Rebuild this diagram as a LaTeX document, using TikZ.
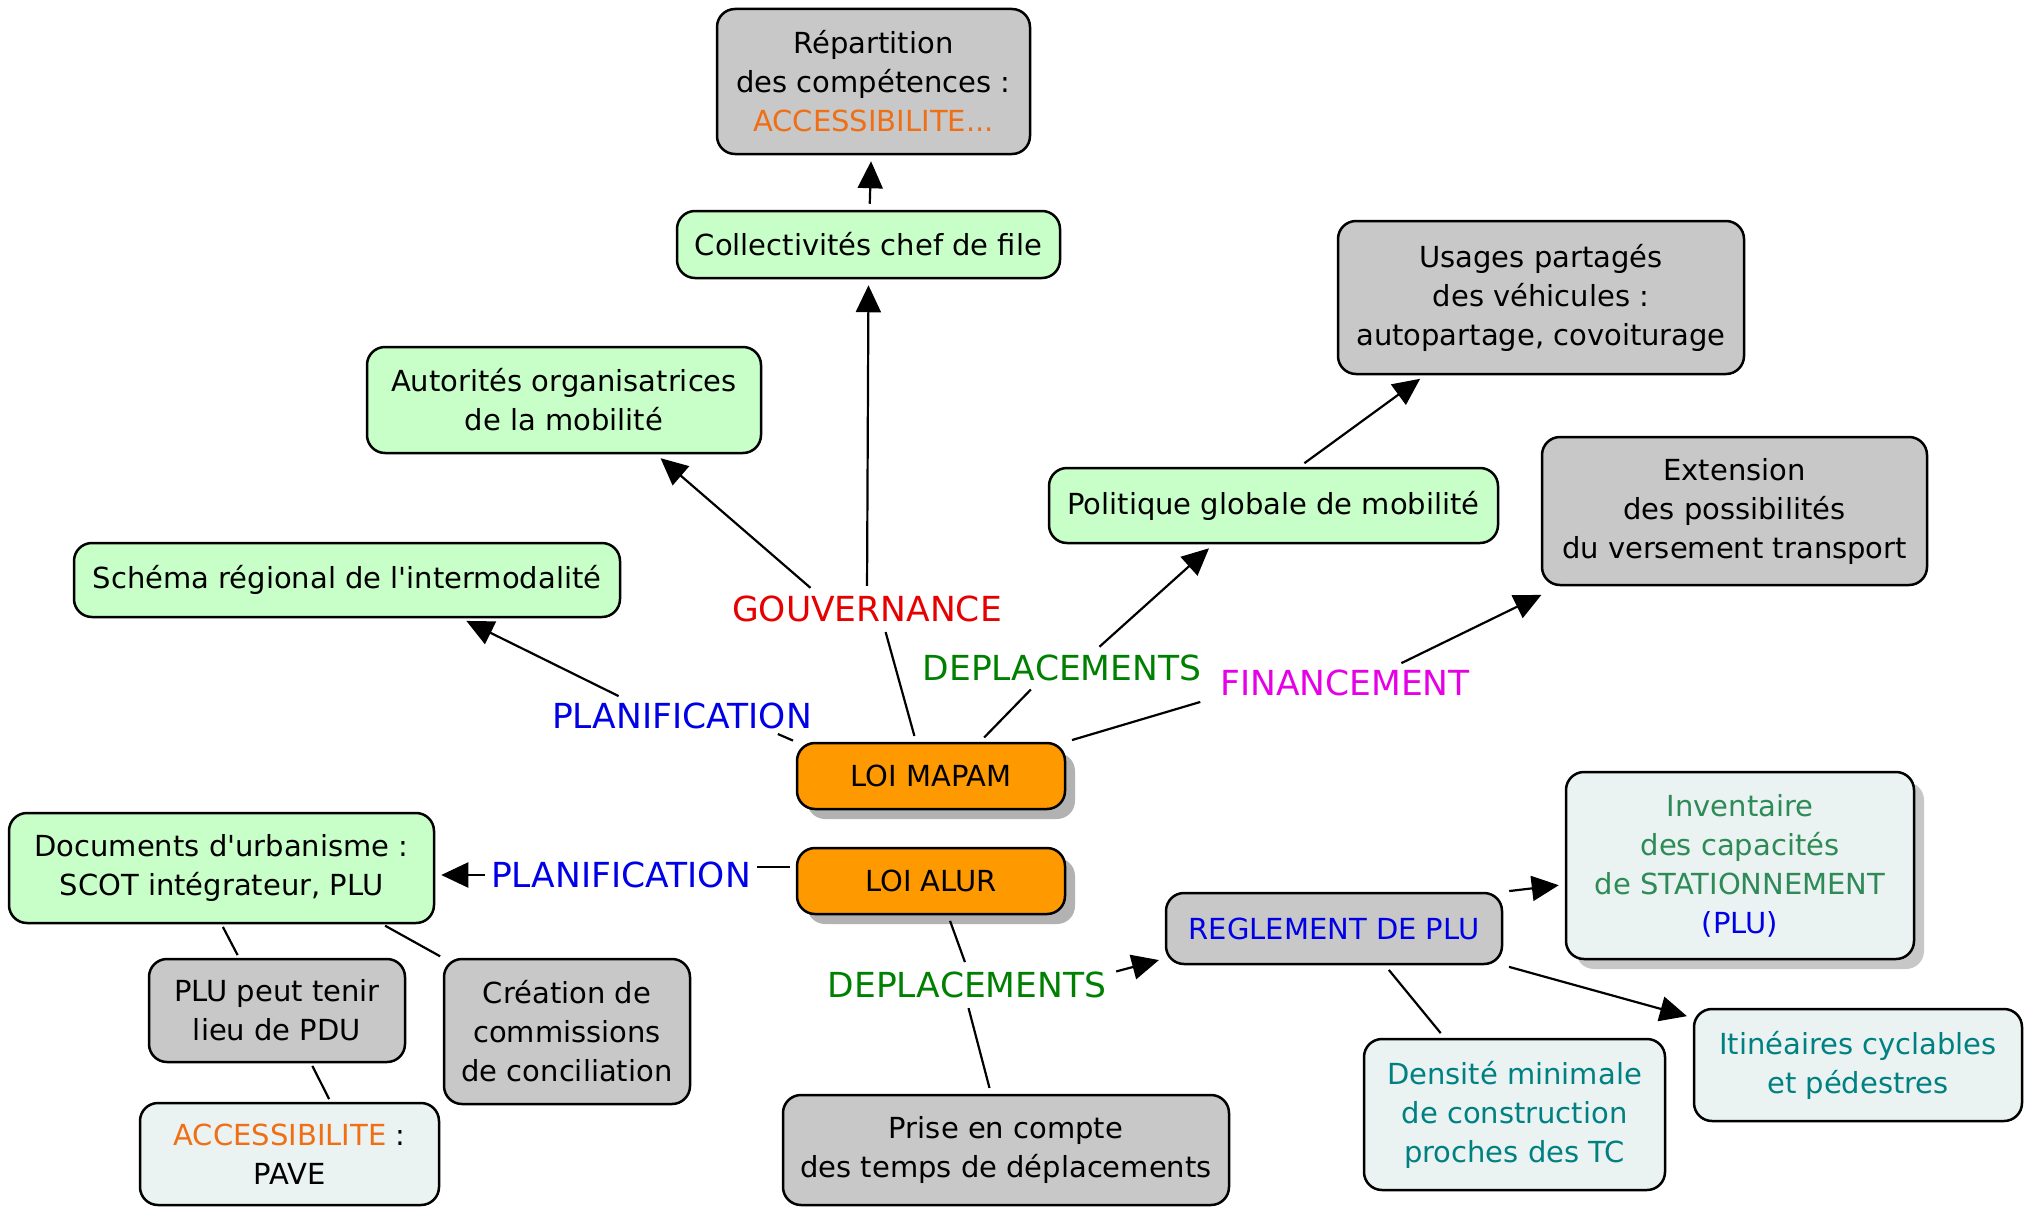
\documentclass[tikz,border=0pt]{standalone}
\usepackage{fontspec}
\setmainfont{DejaVu Sans}
\usetikzlibrary{arrows.meta,shadows}
\definecolor{boxgreen}{RGB}{200,255,200}
\definecolor{boxgray}{RGB}{200,200,200}
\definecolor{boxlight}{RGB}{234,242,242}
\definecolor{boxorange}{RGB}{255,153,0}
\definecolor{txtorange}{RGB}{240,110,20}
\definecolor{txtred}{RGB}{230,0,0}
\definecolor{txtgreen}{RGB}{0,128,0}
\definecolor{txtmagenta}{RGB}{230,0,230}
\definecolor{txtblue}{RGB}{0,0,230}
\definecolor{txtteal}{RGB}{0,128,128}
\definecolor{txtsea}{RGB}{46,139,87}
\tikzset{
  box/.style={draw=black, line width=2.5pt, rounded corners=18pt, align=center,
    font=\fontsize{29}{39}\selectfont, inner sep=6pt},
  wh/.style 2 args={minimum width=#1pt, minimum height=#2pt},
  gbox/.style={box, fill=boxgreen},
  ybox/.style={box, fill=boxgray},
  lbox/.style={box, fill=boxlight},
  obox/.style={box, fill=boxorange, drop shadow={shadow xshift=10pt, shadow yshift=-10pt, fill=black!30, opacity=1}},
  sbox/.style={box, fill=boxlight, drop shadow={shadow xshift=10pt, shadow yshift=-10pt, fill=black!22, opacity=1}},
  lab/.style={font=\fontsize{34.5}{40}\selectfont, inner sep=4pt},
  con/.style={line width=2.2pt, shorten >=6pt, shorten <=6pt},
  arr/.style={con, -{Triangle[length=27pt,width=25pt]}},
}
\begin{document}
\begin{tikzpicture}[x=1pt,y=-1pt]
\useasboundingbox (0,0) rectangle (2029,1207);
% boxes
\node[ybox, wh={313}{145}] (rep) at (873.5,81.5) {Répartition\\des compétences :\\\textcolor{txtorange}{ACCESSIBILITE...}};
\node[gbox, wh={383}{67}] (coll) at (868.5,244.5) {Collectivités chef de file};
\node[ybox, wh={406}{153}] (usages) at (1541,297.5) {Usages partagés\\des véhicules :\\autopartage, covoiturage};
\node[gbox, wh={394}{106}] (autor) at (564,400) {Autorités organisatrices\\de la mobilité};
\node[gbox, wh={449}{75}] (polit) at (1273.5,505.5) {Politique globale de mobilité};
\node[ybox, wh={385}{148}] (ext) at (1734.5,511) {Extension\\des possibilités\\du versement transport};
\node[gbox, wh={546}{74}] (schema) at (347,580) {Schéma régional de l\textquotesingle intermodalité};
\node[obox, wh={268}{66}] (mapam) at (931,776) {LOI MAPAM};
\node[obox, wh={268}{66}] (alur) at (931,881) {LOI ALUR};
\node[gbox, wh={425}{110}] (docs) at (221.5,868) {Documents d\textquotesingle urbanisme :\\SCOT intégrateur, PLU};
\node[ybox, wh={336}{71}, text=txtblue] (regl) at (1334,928.5) {REGLEMENT DE PLU};
\node[sbox, wh={348}{187}, text=txtsea] (inv) at (1740,865.5) {Inventaire\\des capacités\\de STATIONNEMENT\\\textcolor{txtblue}{(PLU)}};
\node[ybox, wh={256}{103}] (plu) at (277,1010.5) {PLU peut tenir\\lieu de PDU};
\node[ybox, wh={246}{145}] (crea) at (567,1031.5) {Création de\\commissions\\de conciliation};
\node[lbox, wh={299}{102}] (acc) at (289.5,1154) {\textcolor{txtorange}{ACCESSIBILITE} :\\PAVE};
\node[ybox, wh={446}{110}] (prise) at (1006,1150) {Prise en compte\\des temps de déplacements};
\node[lbox, wh={301}{151}, text=txtteal] (dens) at (1514.5,1114.5) {Densité minimale\\de construction\\proches des TC};
\node[lbox, wh={328}{112}, text=txtteal] (itin) at (1858,1065) {Itinéaires cyclables\\et pédestres};
% labels
\node[lab, text=txtred] (gouv) at (867,609) {GOUVERNANCE};
\node[lab, text=txtgreen] (depl1) at (1062,668) {DEPLACEMENTS};
\node[lab, text=txtmagenta] (fin) at (1345,683) {FINANCEMENT};
\node[lab, text=txtblue] (plan1) at (682,716) {PLANIFICATION};
\node[lab, text=txtblue] (plan2) at (621,875) {PLANIFICATION};
\node[lab, text=txtgreen] (depl2) at (967,985) {DEPLACEMENTS};
% connectors
\draw[arr] (coll) -- (rep);
\draw[arr] (gouv.north) -- (coll.south);
\draw[arr] ([xshift=-52pt]gouv.north) -- ([xshift=92pt]autor.south);
\draw[con] ([xshift=-15pt]mapam.north) -- ([xshift=17pt]gouv.south);
\draw[con] ([xshift=49pt]mapam.north) -- ([xshift=-27pt]depl1.south);
\draw[arr] ([xshift=33pt]depl1.north) -- ([xshift=-60pt]polit.south);
\draw[arr] ([xshift=26pt]polit.north) -- ([xshift=-116pt]usages.south);
\draw[con] (mapam.north east) -- ([xshift=-10pt]fin.south west);
\draw[arr] ([xshift=51pt]fin.north) -- ([xshift=6pt,yshift=-6pt]ext.south west);
\draw[con, shorten >=2pt, shorten <=3pt] (mapam.north west) -- ([xshift=-40pt]plan1.south east);
\draw[arr] ([xshift=-58pt]plan1.north) -- ([xshift=114pt]schema.south);
\draw[con, shorten >=2pt] ([yshift=14pt]alur.west) -- ([yshift=14pt]alur.west -| plan2.east);
\draw[arr, shorten <=2pt] (plan2.west) -- (plan2.west -| docs.east);
\draw[con] ([xshift=17pt]alur.south) -- (depl2.north);
\draw[arr] ([yshift=12pt]depl2.east) -- ([yshift=-30pt]regl.west);
\draw[con] (depl2.south) -- ([xshift=-15pt]prise.north);
\draw[arr] (regl.north east) -- ([yshift=-19pt]inv.west);
\draw[arr] (regl.south east) -- ([yshift=-10pt]itin.north west);
\draw[con] ([xshift=51pt]regl.south) -- ([xshift=-70pt]dens.north);
\draw[con, shorten >=3pt, shorten <=3pt] (docs.south) -- ([xshift=-38pt]plu.north);
\draw[con, shorten >=3pt, shorten <=3pt] ([xshift=161pt]docs.south) -- (crea.north west);
\draw[con, shorten >=3pt, shorten <=3pt] ([xshift=34pt]plu.south) -- ([xshift=41pt]acc.north);
\end{tikzpicture}
\end{document}
